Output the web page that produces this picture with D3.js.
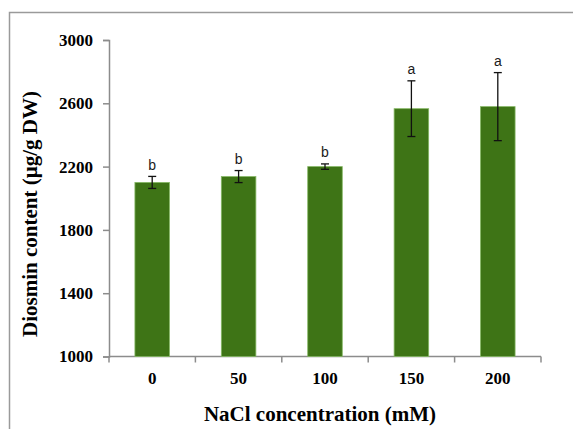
<!DOCTYPE html>
<html>
<head>
<meta charset="utf-8">
<script src="https://cdn.jsdelivr.net/npm/d3@7"></script>
<style>
  html, body { margin: 0; padding: 0; background: #fff; }
  svg { display: block; }
</style>
</head>
<body>
<svg id="chart" width="573" height="429"></svg>
<script>
// NaCl treatment levels and measured diosmin content
const categories = ["0", "50", "100", "150", "200"];
const values = [2100, 2137, 2200, 2566, 2579];
const errors = [38, 38, 17, 176, 215];
const letters = ["b", "b", "b", "a", "a"];
const yTicks = [1000, 1400, 1800, 2200, 2600, 3000];

const svg = d3.select("#chart");
const W = 573, H = 429;

// outer frame (left and top edges visible)
svg.append("path")
  .attr("d", `M9.5,${H} L9.5,12.5 L${W},12.5`)
  .attr("fill", "none")
  .attr("stroke", "#9a9a9a")
  .attr("stroke-width", 1.5);

const x0 = 109, x1 = 541, yTop = 40, yBot = 356.5;

const x = d3.scaleBand().domain(categories).range([x0, x1]).paddingInner(0.6).paddingOuter(0.3);
const xb = d3.scaleBand().domain(categories).range([x0, x1]);
const y = d3.scaleLinear().domain([1000, 3000]).range([yBot, yTop]);

const axisColor = "#8c8c8c";
const serif = "'Liberation Serif', 'Times New Roman', serif";

// y axis
const gy = svg.append("g").attr("transform", `translate(${x0},0)`)
  .call(d3.axisLeft(y).tickValues(yTicks).tickSize(6).tickPadding(10).tickFormat(d3.format("d")));
gy.select(".domain").attr("stroke", axisColor).attr("stroke-width", 1.5);
gy.selectAll(".tick line").attr("stroke", axisColor).attr("stroke-width", 1.5);
gy.selectAll(".tick text")
  .attr("font-family", serif).attr("font-weight", "bold").attr("font-size", 17).attr("fill", "#000");

// x axis with ticks on band boundaries
const gx = svg.append("g").attr("transform", `translate(0,${yBot})`);
gx.append("line").attr("x1", x0).attr("x2", x1).attr("stroke", axisColor).attr("stroke-width", 1.5);
const bounds = categories.map(c => xb(c)).concat([x1]);
gx.selectAll("line.tk").data(bounds).enter().append("line")
  .attr("class", "tk")
  .attr("x1", d => d).attr("x2", d => d).attr("y1", 0).attr("y2", 6)
  .attr("stroke", axisColor).attr("stroke-width", 1.5);
gx.selectAll("text").data(categories).enter().append("text")
  .attr("x", d => xb(d) + xb.bandwidth() / 2)
  .attr("y", 27.5)
  .attr("text-anchor", "middle")
  .attr("font-family", serif).attr("font-weight", "bold").attr("font-size", 17)
  .text(d => d);

// bars
svg.selectAll("rect.bar").data(categories).enter().append("rect")
  .attr("class", "bar")
  .attr("x", d => x(d))
  .attr("width", x.bandwidth())
  .attr("y", (d, i) => y(values[i]))
  .attr("height", (d, i) => yBot - y(values[i]))
  .attr("fill", "#3e7416")
  .attr("stroke", "#86b865")
  .attr("stroke-width", 0.8);

// error bars
const eb = svg.append("g").attr("stroke", "#111").attr("stroke-width", 1.3);
categories.forEach((c, i) => {
  const cx = x(c) + x.bandwidth() / 2;
  const t = y(values[i] + errors[i]), b = y(values[i] - errors[i]);
  eb.append("line").attr("x1", cx).attr("x2", cx).attr("y1", t).attr("y2", b);
  eb.append("line").attr("x1", cx - 4).attr("x2", cx + 4).attr("y1", t).attr("y2", t);
  eb.append("line").attr("x1", cx - 4).attr("x2", cx + 4).attr("y1", b).attr("y2", b);
});

// significance letters
svg.selectAll("text.sig").data(categories).enter().append("text")
  .attr("class", "sig")
  .attr("x", d => x(d) + x.bandwidth() / 2)
  .attr("y", (d, i) => y(values[i] + errors[i]) - 6.5)
  .attr("text-anchor", "middle")
  .attr("font-family", "'Liberation Sans', Arial, sans-serif")
  .attr("font-size", 14)
  .attr("fill", "#1a1a1a")
  .text((d, i) => letters[i]);

// axis titles
svg.append("text")
  .attr("x", 320).attr("y", 421)
  .attr("text-anchor", "middle")
  .attr("font-family", serif).attr("font-weight", "bold").attr("font-size", 21)
  .text("NaCl concentration (mM)");

svg.append("text")
  .attr("transform", `translate(37,214) rotate(-90)`)
  .attr("text-anchor", "middle")
  .attr("font-family", serif).attr("font-weight", "bold").attr("font-size", 21)
  .text("Diosmin content (µg/g DW)");
</script>
</body>
</html>
